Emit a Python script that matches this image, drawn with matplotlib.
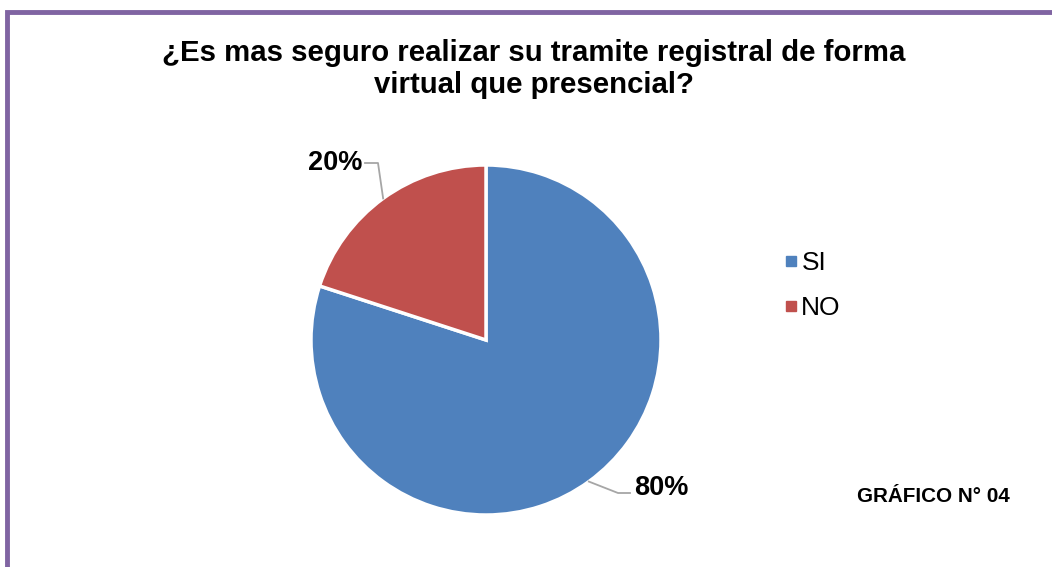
import numpy as np
import matplotlib.pyplot as plt
from matplotlib.lines import Line2D
from matplotlib.patches import Rectangle

plt.rcParams['font.family'] = ['Liberation Sans', 'DejaVu Sans']

# data
categories = ['SI', 'NO']
values = [80, 20]
colors = ['#4F81BD', '#C0504D']
title = '¿Es mas seguro realizar su tramite registral de forma\nvirtual que presencial?'
caption = 'GRÁFICO N° 04'

W, H = 1052, 567
fig = plt.figure(figsize=(W / 100, H / 100), dpi=100)
ax = fig.add_axes([0, 0, 1, 1])

# purple frame (only left/top visible)
ax.add_patch(Rectangle((7, -20), W + 40, H - 12 + 20, fill=False,
                       edgecolor='#8064A2', linewidth=3.5))

cx, cy, r = 486, H - 340, 175
wedges, _ = ax.pie(values, colors=colors, startangle=90, counterclock=False,
                   center=(cx, cy), radius=r, frame=True,
                   wedgeprops=dict(edgecolor='white', linewidth=2.5))
ax.set_xlim(0, W)
ax.set_ylim(0, H)
ax.axis('off')

# percentage labels with leader lines
label_pos = [(661, H - 488), (335, H - 163)]
pct = [v / sum(values) * 100 for v in values]
for w, p, (lx, ly) in zip(wedges, pct, label_pos):
    mid = np.deg2rad((w.theta1 + w.theta2) / 2)
    px, py = cx + r * np.cos(mid), cy + r * np.sin(mid)
    if lx > cx:
        ex, tx = lx - 43, lx - 31
        ey = ly - 5
    else:
        ex, tx = lx + 43, lx + 30
        ey = ly
    ax.plot([px, ex, tx], [py, ey, ey], color='#A6A6A6', lw=1.3)
    ax.text(lx, ly, f'{p:.0f}%', ha='center', va='center',
            fontsize=19.5, fontweight='bold')

ax.text(534, H - 69, title, ha='center', va='center', fontsize=21.2,
        fontweight='bold', linespacing=1.17)

handles = [Line2D([], [], marker='s', linestyle='none', markersize=7,
                  markerfacecolor=c, markeredgecolor=c) for c in colors]
ax.legend(handles, categories, loc='upper left', bbox_to_anchor=(771 / W, 1 - 238 / H),
          frameon=False, fontsize=19, handlelength=0.5, handletextpad=0.15,
          labelspacing=0.78, borderpad=0)

ax.text(933, H - 497, caption, ha='center', va='center', fontsize=14.9,
        fontweight='bold')

fig.savefig('out.png', dpi=100)
